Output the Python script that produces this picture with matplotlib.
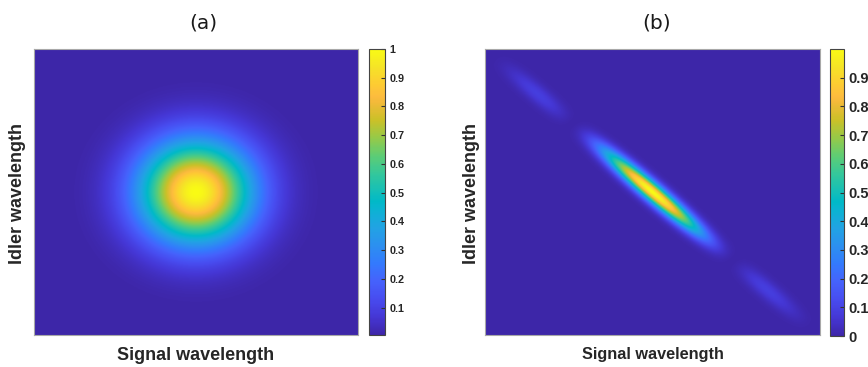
import numpy as np
import matplotlib
matplotlib.use('Agg')
from matplotlib import pyplot as plt
from matplotlib.colors import LinearSegmentedColormap

# parula anchor colours (index out of 255, rgb)
parula_idx = [0, 16, 32, 48, 64, 80, 96, 112, 119, 128, 144, 160, 176, 192, 208, 213, 224, 240, 255]
parula_rgb = [(0.2422, 0.1504, 0.6603), (0.2704, 0.2138, 0.8346), (0.2813, 0.2985, 0.9397),
              (0.2710, 0.3860, 0.9898), (0.2006, 0.4803, 0.9906), (0.1716, 0.5655, 0.9393),
              (0.1288, 0.6408, 0.8910), (0.0433, 0.7039, 0.8242), (0.0009, 0.7248, 0.7815),
              (0.0770, 0.7468, 0.7224), (0.2061, 0.7808, 0.6065), (0.3671, 0.8021, 0.4563),
              (0.5886, 0.7913, 0.2833), (0.7945, 0.7554, 0.1570), (0.9523, 0.7284, 0.2237),
              (0.9900, 0.7365, 0.2429), (0.9938, 0.7974, 0.1974), (0.9601, 0.8963, 0.1507),
              (0.9769, 0.9839, 0.0805)]

# grid of signal / idler detuning (normalised)
n_grid = 500
span = (-1.0, 1.0)

# (a) round gaussian joint spectrum
blob_center = (0.0, 0.0)
blob_sigma = (0.245, 0.25)
clim_a = (0.005, 1.0)
ticks_a = [0.1, 0.2, 0.3, 0.4, 0.5, 0.6, 0.7, 0.8, 0.9, 1.0]
ticklabels_a = ['0.1', '0.2', '0.3', '0.4', '0.5', '0.6', '0.7', '0.8', '0.9', '1']

# (b) anti-correlated spectrum: sinc along anti-diagonal, gaussian across
sinc_zero = 0.48
sinc_power = 1.6
band_sigma = 0.028
clim_b = (0.0, 1.0)
ticks_b = [0.0, 0.1, 0.2, 0.3, 0.4, 0.5, 0.6, 0.7, 0.8, 0.9]
ticklabels_b = ['0', '0.1', '0.2', '0.3', '0.4', '0.5', '0.6', '0.7', '0.8', '0.9']

titles = ['(a)', '(b)']
xlab = 'Signal wavelength'
ylab = 'Idler wavelength'

parula = LinearSegmentedColormap.from_list(
    'parula', [(i / 255.0, c) for i, c in zip(parula_idx, parula_rgb)], N=256)

s = np.linspace(span[0], span[1], n_grid)
S, I = np.meshgrid(s, s)

jsa_a = np.exp(-(S - blob_center[0])**2 / (2 * blob_sigma[0]**2)
               - (I - blob_center[1])**2 / (2 * blob_sigma[1]**2))

u = (S - I) / 2.0
v = (S + I) / 2.0
jsa_b = np.abs(np.sinc(u / sinc_zero))**sinc_power * np.exp(-v**2 / (2 * band_sigma**2))

fig = plt.figure(figsize=(8.68, 3.67), dpi=100)

txtc = '#262626'
boxc = '#a8a8a8'


def panel(rect, crect, data, clim, ticks, ticklabels, title, tlx, xl_size, cb_size, ylx):
    ax = fig.add_axes(rect)
    im = ax.imshow(data, extent=[span[0], span[1], span[0], span[1]], origin='lower',
                   aspect='auto', cmap=parula, vmin=clim[0], vmax=clim[1],
                   interpolation='bilinear')
    ax.set_xticks([])
    ax.set_yticks([])
    for sp in ax.spines.values():
        sp.set_color(boxc)
        sp.set_linewidth(0.8)
    fig.text(tlx, 1 - 23 / 367, title, ha='center', va='center', size=14.5,
             family='DejaVu Sans', color='#1a1a1a')
    fig.text(rect[0] + rect[2] / 2, 1 - 355 / 367, xlab, ha='center', va='center',
             size=xl_size, weight='bold', family='Liberation Sans', color=txtc)
    fig.text(ylx, rect[1] + rect[3] / 2 - 0.004, ylab, ha='center', va='center',
             rotation=90, size=13, weight='bold', family='Liberation Sans', color=txtc)
    cax = fig.add_axes(crect)
    cb = fig.colorbar(im, cax=cax)
    cb.set_ticks(ticks)
    cb.set_ticklabels(ticklabels)
    cb.outline.set_edgecolor('#444444')
    cb.outline.set_linewidth(0.8)
    cax.tick_params(direction='in', length=3, width=0.8, color='#333333',
                    labelsize=cb_size, pad=3, labelcolor=txtc)
    for t in cax.get_yticklabels():
        t.set_fontweight('bold')
        t.set_family('Liberation Sans')
    return ax


panel([34 / 868, 32 / 367, 324 / 868, 286 / 367], [369 / 868, 32 / 367, 16 / 868, 286 / 367],
      jsa_a, clim_a, ticks_a, ticklabels_a, titles[0], 203 / 868, 13, 7.8, 18 / 868)
panel([485 / 868, 32 / 367, 335 / 868, 286 / 367], [830 / 868, 31 / 367, 14 / 868, 287 / 367],
      jsa_b, clim_b, ticks_b, ticklabels_b, titles[1], 657 / 868, 11.7, 10.5, 472 / 868)

plt.savefig('out.png', dpi=100)
